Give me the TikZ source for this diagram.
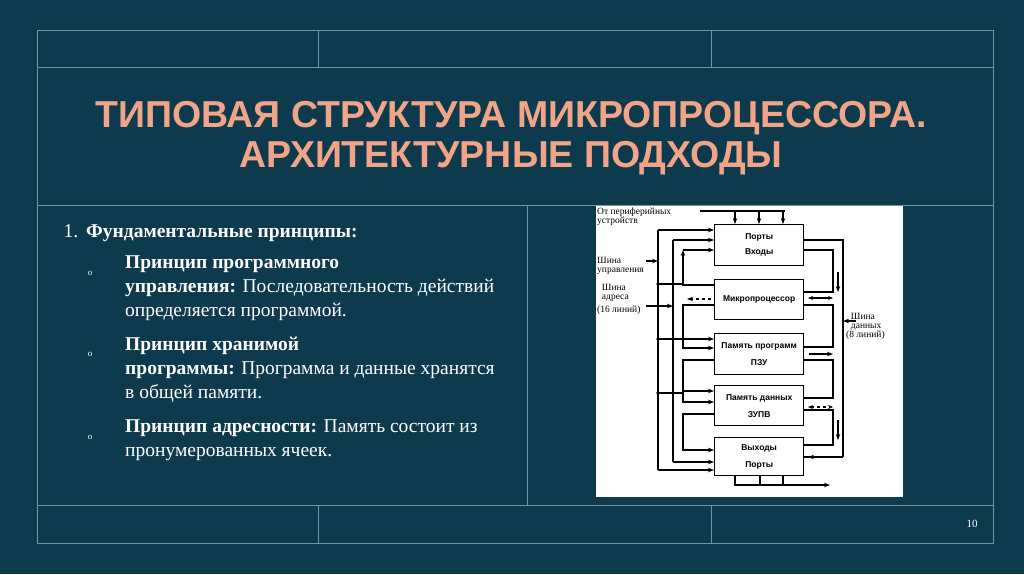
\documentclass[tikz,border=0pt]{standalone}
\usepackage{fontspec}
\setmainfont{Liberation Serif}
\newfontfamily\ttl{Liberation Sans}
\usetikzlibrary{arrows.meta}
\definecolor{bg}{HTML}{0E3A4E}
\definecolor{fr}{HTML}{6F95A8}
\definecolor{sal}{HTML}{F2A488}
\begin{document}
\begin{tikzpicture}[x=1pt,y=-1pt,
 frame/.style={draw=fr,line width=0.8pt},
 blk/.style={draw=black,line width=1.3pt,fill=white,minimum width=89pt,anchor=north west,font=\ttl\bfseries\fontsize{8.5}{10}\selectfont,align=center},
 ln/.style={line width=1.3pt},
 ar/.style={ln,-{Stealth[length=6pt,width=4.5pt]}},
 dar/.style={ln,{Stealth[length=5pt,width=4pt]}-{Stealth[length=5pt,width=4pt]}},
 dot/.style={circle,fill=black,inner sep=1.3pt},
 body/.style={text=white,anchor=west,font=\fontsize{19.5}{24}\selectfont},
 sm/.style={font=\fontsize{9.5}{9}\selectfont,align=left,inner sep=0pt}]
\fill[bg] (0,0) rectangle (1024,574);
\useasboundingbox (0,0) rectangle (1024,574);
\draw[frame] (37,30) rectangle (993,543);
\draw[frame] (37,67) -- (993,67) (37,205) -- (993,205) (37,505) -- (993,505);
\draw[frame] (318,30) -- (318,67) (711,30) -- (711,67) (318,505) -- (318,543) (711,505) -- (711,543) (527,205) -- (527,505);
\node[text=sal,font=\ttl\bfseries\fontsize{37.5}{40}\selectfont,align=center] (t) at (511,138) {ТИПОВАЯ СТРУКТУРА МИКРОПРОЦЕССОРА.\\АРХИТЕКТУРНЫЕ ПОДХОДЫ};
\node[body] (l1) at (60,233) {1.\hspace{8pt}\textbf{Фундаментальные принципы:}};
\foreach \y in {273,354,437}{\node[text=white,font=\fontsize{9}{9}\selectfont] at (90,\y) {o};}
\node[body,align=left,anchor=north west,inner sep=0pt] (p1) at (125,256) {\textbf{Принцип программного}\\\textbf{управления:} Последовательность действий\\определяется программой.};
\node[body,align=left,anchor=north west,inner sep=0pt] (p2) at (125,337) {\textbf{Принцип хранимой}\\\textbf{программы:} Программа и данные хранятся\\в общей памяти.};
\node[body,align=left,anchor=north west,inner sep=0pt] (p3) at (125,420) {\textbf{Принцип адресности:} Память состоит из\\пронумерованных ячеек.};
\node[text=white,font=\fontsize{11}{11}\selectfont] (pg) at (972,524) {10};
% diagram
\fill[white] (596,206) rectangle (903,497);
\node[blk,minimum height=41pt] (b1) at (714,224) {Порты\\[5pt]Входы};
\node[blk,minimum height=40pt] (b2) at (714,279) {Микропроцессор};
\node[blk,minimum height=41pt] (b3) at (714,333) {Память программ\\[7pt]ПЗУ};
\node[blk,minimum height=40pt] (b4) at (714,385) {Память данных\\[7pt]ЗУПВ};
\node[blk,minimum height=38pt] (b5) at (714,437) {Выходы\\[7pt]Порты};
\node[sm,anchor=north west] (lt) at (597,207.5) {От периферийных\\устройств};
\node[sm,anchor=north west] (lu) at (597,257) {Шина\\управления};
\node[sm,anchor=north west] (la) at (597,284) {\ \ Шина\\\ \ адреса\\[4pt](16 линий)};
\node[sm,anchor=north west] (ld) at (846,313) {\ \ Шина\\\ \ данных\\(8 линий)};
% top inputs
\draw[ln] (700,211) -- (785,211);
\foreach \x in {735,759,783}{\draw[ar] (\x,211) -- (\x,224);}
% bottom outputs
\draw[ar] (735,475) -- (735,485) -- (830,485);
\foreach \x in {760,783}{\draw[ln] (\x,475) -- (\x,485);}
% left buses
\draw[ln] (658,230) -- (658,470);
\draw[ar] (658,230) -- (714,230);
\draw[ar] (658,470) -- (714,470);
\draw[ar] (646,261) -- (658,261);
\foreach \y in {284,339,393}{\node[dot] at (658,\y){}; \draw[ln] (658,\y) -- (683,\y);}
\draw[ln] (673,240) -- (673,462);
\draw[ar] (673,240) -- (714,240);
\draw[ar] (673,462) -- (714,462);
\draw[ar] (646,306) -- (673,306);
\foreach \y in {339,393}{\node[dot] at (673,\y){};}
% left loops
\draw[ar] (683,250) -- (714,250);
\draw[ar] (714,285) -- (683,285) -- (683,250);
\draw[ar,dashed] (711,299) -- (687,299);
\draw[ar] (714,305) -- (683,305) -- (683,348) -- (714,348);
\draw[ar] (683,339) -- (714,339);
\draw[ar] (714,360) -- (683,360) -- (683,402) -- (714,402);
\draw[ar] (683,391) -- (714,391);
\draw[ar] (714,414) -- (683,414) -- (683,450) -- (714,450);
% right side
\draw[ln] (803,240) -- (843,240) -- (843,457);
\draw[ln] (803,250) -- (833,250) -- (833,292) -- (803,292);
\draw[ln] (803,305) -- (833,305) -- (833,347) -- (803,347);
\draw[ln] (803,360) -- (833,360) -- (833,398) -- (803,398);
\draw[ln] (803,410) -- (833,410) -- (833,445) -- (803,445);
\draw[ln] (843,457) -- (803,457);
\draw[ar] (838,272) -- (838,292);
\draw[dar] (808,298) -- (833,298);
\draw[ar] (856,321) -- (843,321);
\draw[ar] (809,354) -- (833,354);
\draw[dar,dashed] (808,407) -- (833,407);
\draw[ar] (838,420) -- (838,440);
\draw[ar] (833,457) -- (808,457);
\end{tikzpicture}
\end{document}
